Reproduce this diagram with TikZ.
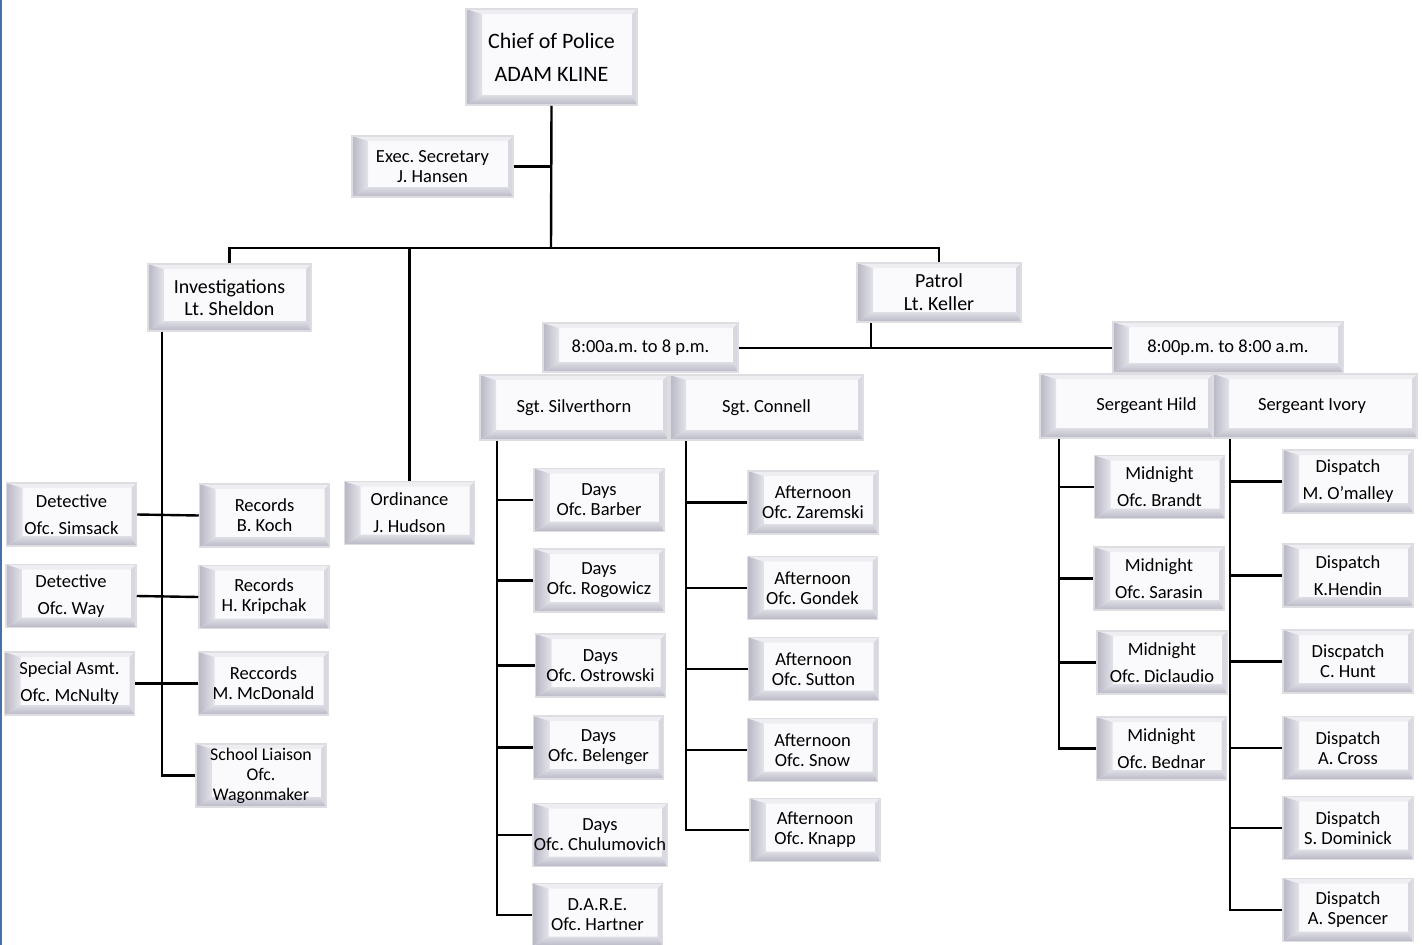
\documentclass[tikz,border=0pt]{standalone}
\usepackage{fontspec}
\setmainfont{Carlito}
\usepackage{xcolor}
\usepackage{tikz}
\usetikzlibrary{positioning}
\frenchspacing

\definecolor{face}{RGB}{250,250,252}
\definecolor{edgeline}{RGB}{222,222,226}
\definecolor{bevdark}{RGB}{184,184,198}
\definecolor{bevlight}{RGB}{238,238,242}
\definecolor{sidebar}{RGB}{70,112,168}

\tikzset{
  link/.style={line width=2.4pt},
  wh/.style 2 args={minimum width=#1pt, minimum height=#2pt},
  box/.style={draw=edgeline, line width=1.5pt, fill=face, wh={130}{63},
    inner sep=1pt, align=center, font=\fontsize{18.5}{20}\selectfont,
    path picture={
      \path (path picture bounding box.south west) coordinate (bsw)
            (path picture bounding box.north east) coordinate (bne)
            (path picture bounding box.north west) coordinate (bnw)
            (path picture bounding box.south east) coordinate (bse);
      \fill[bevlight] (bnw) -- (bne) -- ++(-5pt,-5pt) -- ([shift={(16pt,-5pt)}]bnw) -- cycle;
      \fill[bevlight!60!bevdark] (bne) -- (bse) -- ++(-5pt,10pt) -- ([shift={(-5pt,-5pt)}]bne) -- cycle;
      \shade[left color=bevdark, right color=bevlight!80!bevdark] (bnw) -- (bsw) -- ++(16pt,10pt) -- ([shift={(16pt,-5pt)}]bnw) -- cycle;
      \shade[top color=bevlight!70!bevdark, bottom color=bevdark] (bsw) -- (bse) -- ++(-5pt,10pt) -- ([shift={(16pt,10pt)}]bsw) -- cycle;
    }},
  wide/.style={box, font=\fontsize{18.5}{27}\selectfont}
}

\begin{document}
\begin{tikzpicture}[x=1pt,y=-1pt]
\useasboundingbox (0,0) rectangle (1422,945);
\fill[sidebar] (0,0) rectangle (2,945);

% head of the chart
\node[box, wh={171}{96}, font=\fontsize{22}{33}\selectfont] (chief) at (551.5,57) {Chief of Police\\ADAM KLINE};
\node[box, wh={161}{61}] (exec) at (432.5,166.5) {Exec. Secretary\\J. Hansen};
\node[box, wh={163}{67}, font=\fontsize{20}{22}\selectfont] (inv) at (229.5,297.5) {Investigations\\Lt. Sheldon};
\node[box, wh={164}{59}, font=\fontsize{20}{23}\selectfont] (patrol) at (939,292.5) {Patrol\\Lt. Keller};
\node[wide] (ordinance) at (409.5,513) {Ordinance\\J. Hudson};

\coordinate (bus) at (551,248);
\draw[link] (chief.south) -- (bus);
\draw[link] (exec.east) -- (exec.east -| bus);
\draw[link] (inv.north) |- (bus) -| (patrol.north);
\draw[link] (ordinance.north) -- (ordinance.north |- bus);

% investigations
\node[wide] (simsack) at (71.5,514.5) {Detective\\Ofc. Simsack};
\node[wide] (way) at (71,596) {Detective\\Ofc. Way};
\node[wide] (mcnulty) at (69.5,683.5) {Special Asmt.\\Ofc. McNulty};
\node[box] (koch) at (264.5,515.5) {Records\\B. Koch};
\node[box] (kripchak) at (264,597) {Records\\H. Kripchak};
\node[box] (mcdonald) at (263.5,683.5) {Reccords\\M. McDonald};
\node[box, font=\fontsize{17.8}{20}\selectfont] (liaison) at (261,775.5) {School Liaison\\Ofc.\\Wagonmaker};

\coordinate (is) at (162,0);
\draw[link] (inv.south -| is) |- (liaison.west);
\draw[link] (simsack.east) -- (koch.west);
\draw[link] (way.east) -- (kripchak.west);
\draw[link] (mcnulty.east) -- (mcdonald.west);

% patrol shifts
\node[box, wh={195}{49}] (dayshift) at (640.5,347.5) {8:00a.m. to 8 p.m.};
\node[box, wh={230}{51}] (nightshift) at (1228,347.5) {8:00p.m. to 8:00 a.m.};
\coordinate (pj) at (871,0);
\draw[link, line width=2pt] (dayshift.east) -- (nightshift.west);
\draw[link] (patrol.south -| pj) -- (pj |- dayshift.east);

\node[box, wh={188}{65}] (silverthorn) at (574,407.5) {Sgt. Silverthorn};
\node[box, wh={193}{65}] (connell) at (766.5,407.5) {Sgt. Connell};
\node[box, wh={173}{64}] (hild) at (1126.5,406) {\hspace*{40pt}Sergeant Hild};
\node[box, wh={204}{64}] (ivory) at (1315,406) {Sergeant Ivory\hspace*{6pt}};

% day officers
\foreach \n/\x/\y/\t in {barber/599/500/{Days\\Ofc. Barber},
    rogowicz/599/580.5/{Days\\Ofc. Rogowicz},
    ostrowski/600.5/665.5/{Days\\Ofc. Ostrowski},
    belenger/598.5/747.5/{Days\\Ofc. Belenger},
    chulumovich/600/835/{Days\\Ofc. Chulumovich},
    hartner/597.5/915/{D.A.R.E.\\Ofc. Hartner}}
  \node[box] (\n) at (\x,\y) {\t};

\foreach \n/\x/\y/\t in {zaremski/813/502.5/{Afternoon\\Ofc. Zaremski},
    gondek/812.5/588/{Afternoon\\Ofc. Gondek},
    sutton/813.5/669/{Afternoon\\Ofc. Sutton},
    snow/812.5/750/{Afternoon\\Ofc. Snow},
    knapp/815/830/{Afternoon\\Ofc. Knapp}}
  \node[box] (\n) at (\x,\y) {\t};

% night officers
\foreach \n/\x/\y/\t in {brandt/1159.5/487/{Midnight\\Ofc. Brandt},
    sarasin/1159/578.5/{Midnight\\Ofc. Sarasin},
    diclaudio/1162/662.5/{Midnight\\Ofc. Diclaudio},
    bednar/1161.5/748.5/{Midnight\\Ofc. Bednar}}
  \node[wide] (\n) at (\x,\y) {\t};

\node[wide] (omalley) at (1348,481.5) {Dispatch\\M. O'malley};
\node[wide] (hendin) at (1348,575.5) {Dispatch\\K.Hendin};
\foreach \n/\y/\t in {hunt/661.5/{Discpatch\\C. Hunt},
    cross/748/{Dispatch\\A. Cross},
    dominick/828/{Dispatch\\S. Dominick},
    spencer/910/{Dispatch\\A. Spencer}}
  \node[box] (\n) at (1348,\y) {\t};

% branch lines
\coordinate (sv) at (497,0);
\coordinate (cn) at (686,0);
\coordinate (hd) at (1059,0);
\coordinate (iv) at (1230,0);
\draw[link] (silverthorn.south -| sv) |- (hartner.west);
\foreach \n in {barber,rogowicz,ostrowski,belenger,chulumovich}
  \draw[link] (sv |- \n.west) -- (\n.west);
\draw[link] (connell.south -| cn) |- (knapp.west);
\foreach \n in {zaremski,gondek,sutton,snow}
  \draw[link] (cn |- \n.west) -- (\n.west);
\draw[link] (hild.south -| hd) |- (bednar.west);
\foreach \n in {brandt,sarasin,diclaudio}
  \draw[link] (hd |- \n.west) -- (\n.west);
\draw[link] (ivory.south -| iv) |- (spencer.west);
\foreach \n in {omalley,hendin,hunt,cross,dominick}
  \draw[link] (iv |- \n.west) -- (\n.west);

\end{tikzpicture}
\end{document}
